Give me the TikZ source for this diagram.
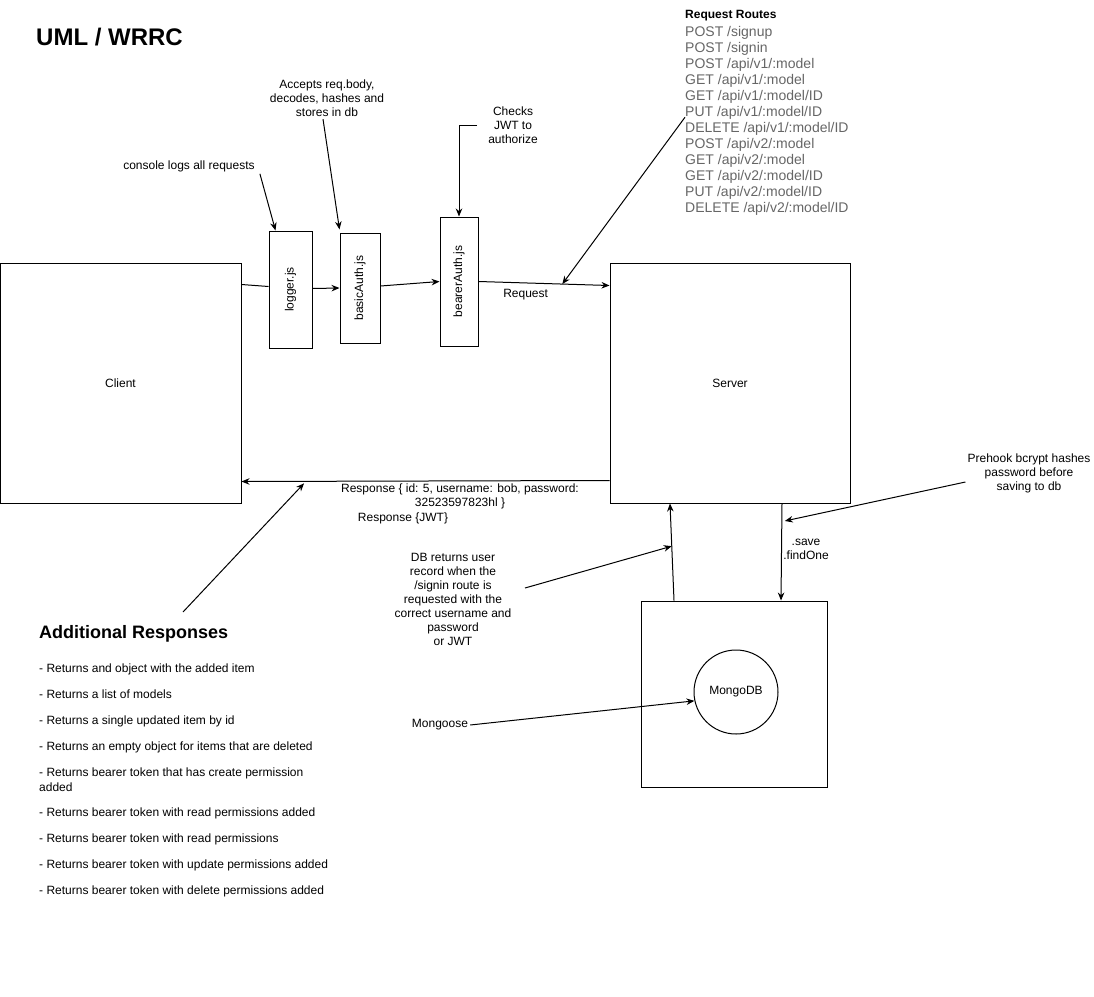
\documentclass[tikz,border=0pt]{standalone}
\usepackage{fontspec}
\setmainfont{Liberation Sans}
\usepackage{tikz}
\usetikzlibrary{arrows.meta, positioning, calc}
\definecolor{routegray}{HTML}{666666}
\tikzset{
  box/.style={draw, line width=1pt, inner sep=0pt,
              font=\fontsize{12}{14}\selectfont},
  midbox/.style={draw, line width=1pt, inner sep=0pt},
  mwtext/.style={rotate=90, inner sep=0pt, font=\fontsize{12}{14}\selectfont},
  dbcircle/.style={draw, circle, line width=1pt, minimum size=84pt,
                   inner sep=0pt, font=\fontsize{12}{14}\selectfont},
  note/.style={align=center, inner sep=2pt, font=\fontsize{12}{14}\selectfont},
  arr/.style={-{Stealth[length=8pt,width=6.5pt]}, line width=1pt},
  plain/.style={line width=1pt},
}

\begin{document}
\begin{tikzpicture}[x=1pt, y=-1pt]
        \useasboundingbox (0,0) rectangle (1094,996);

        % title and routes
        \node[anchor=west, inner sep=0pt,
              font=\fontsize{24}{28}\selectfont\bfseries] (title) at (36,37) {UML / WRRC};
        \node[anchor=west, inner sep=0pt,
              font=\fontsize{12}{14}\selectfont\bfseries] (routehead) at (685,16) {Request Routes};
        \node[anchor=north west, inner sep=0pt, align=left, text=routegray,
              font=\fontsize{14}{16}\selectfont] (routes) at (685,26.5)
              {POST /signup\\ POST /signin\\ POST /api/v1/:model\\ GET /api/v1/:model\\
               GET /api/v1/:model/ID\\ PUT /api/v1/:model/ID\\ DELETE /api/v1/:model/ID\\
               POST /api/v2/:model\\ GET /api/v2/:model\\ GET /api/v2/:model/ID\\
               PUT /api/v2/:model/ID\\ DELETE /api/v2/:model/ID};

        % main boxes
        \node[box, minimum width=241pt, minimum height=240pt] (client) at (120.5,383) {Client};
        \node[box, minimum width=240pt, minimum height=240pt] (server) at (730,383) {Server};
        \node[box, minimum width=186pt, minimum height=186pt] (mongo)  at (734,694) {};
        \node[dbcircle] (mongodb) at (736,692) {MongoDB};

        % middleware
        \node[midbox, minimum width=43pt, minimum height=117pt,
              label={[mwtext]center:logger.js}]     (logger) at (290.5,289.5) {};
        \node[midbox, minimum width=40pt, minimum height=110pt,
              label={[mwtext]center:basicAuth.js}]  (basic)  at (360,288) {};
        \node[midbox, minimum width=38pt, minimum height=129pt,
              label={[mwtext]center:bearerAuth.js}] (bearer) at (459,281.5) {};

        % notes
        \node[note] (console)  at (189,166)   {console logs all requests};
        \node[note] (accepts)  at (327,98.5)  {Accepts req.body,\\decodes, hashes and\\stores in db};
        \node[note] (checks)   at (513,125)   {Checks\\JWT to\\authorize};
        \node[note] (prehook)  at (1029,473)  {Prehook bcrypt hashes\\password before\\saving to db};
        \node[note] (dbnote)   at (453,599)   {DB returns user\\record when the\\/signin route is\\requested with the\\correct username and\\password\\or JWT};
        \node[note] (mongoose) at (440,725)   {Mongoose};
        \node[note] (resp1)    at (460,496)   {Response \{ id: 5, username: bob, password:\\32523597823hl \}};
        \node[note] (resp2)    at (403,518)   {Response \{JWT\}};
        \node[note] (savelbl)  at (806,549.5) {.save\\.findOne};

        % additional responses
        \node[anchor=west, inner sep=0pt,
              font=\fontsize{18}{22}\selectfont\bfseries] (addhead) at (39,634) {Additional Responses};
        \node[anchor=north west, inner sep=0pt, align=left,
              font=\fontsize{12}{15}\selectfont] (addlist) at (39,663.8)
              {- Returns and object with the added item\\[11pt]
               - Returns a list of models\\[11pt]
               - Returns a single updated item by id\\[11pt]
               - Returns an empty object for items that are deleted\\[11pt]
               - Returns bearer token that has create permission\\
               added\\[10pt]
               - Returns bearer token with read permissions added\\[11pt]
               - Returns bearer token with read permissions\\[11pt]
               - Returns bearer token with update permissions added\\[11pt]
               - Returns bearer token with delete permissions added};

        % request chain
        \draw[plain] ([yshift=-22pt]client.north east) -- ([yshift=3pt]logger.west);
        \draw[arr] ([yshift=1pt]logger.east) -- (basic.west);
        \draw[arr] ([yshift=2pt]basic.east) -- (bearer.west);
        \draw[arr] (bearer.east) -- coordinate[pos=0.64] (reqpt)
              node[pos=0.36, below=4pt, note]{Request} ([yshift=-23pt]server.north west);

        % response
        \draw[arr] ([yshift=23pt]server.south west) -- coordinate[pos=0.83] (resppt)
              ([yshift=22pt]client.south east);

        % database
        \draw[arr] ([xshift=52pt]server.south) -- coordinate[pos=0.18] (savept)
              ([xshift=47pt]mongo.north);
        \draw[arr] ([xshift=-60pt]mongo.north) -- coordinate[pos=0.56] (retpt)
              ([xshift=-60pt]server.south);

        % note pointers
        \coordinate (dbfrom)  at (525,588);
        \coordinate (addfrom) at (183,612);
        \draw[arr] ([xshift=3pt]console.south east) -- ([xshift=7pt]logger.north west);
        \draw[arr] ([xshift=-4pt]accepts.south) -- ([yshift=3pt]basic.north west);
        \draw[arr] ([xshift=-9pt]checks.west) -| (bearer.north);
        \draw[arr] ([yshift=4pt]routes.west) -- (reqpt);
        \draw[arr] (addfrom) -- ([yshift=-2pt]resppt);
        \draw[arr] (dbfrom) -- (retpt);
        \draw[arr] ([yshift=-9pt]prehook.west) -- ([xshift=3pt]savept);
        \draw[arr] (mongoose.east) -- (mongodb.192);
      \end{tikzpicture}
\end{document}
